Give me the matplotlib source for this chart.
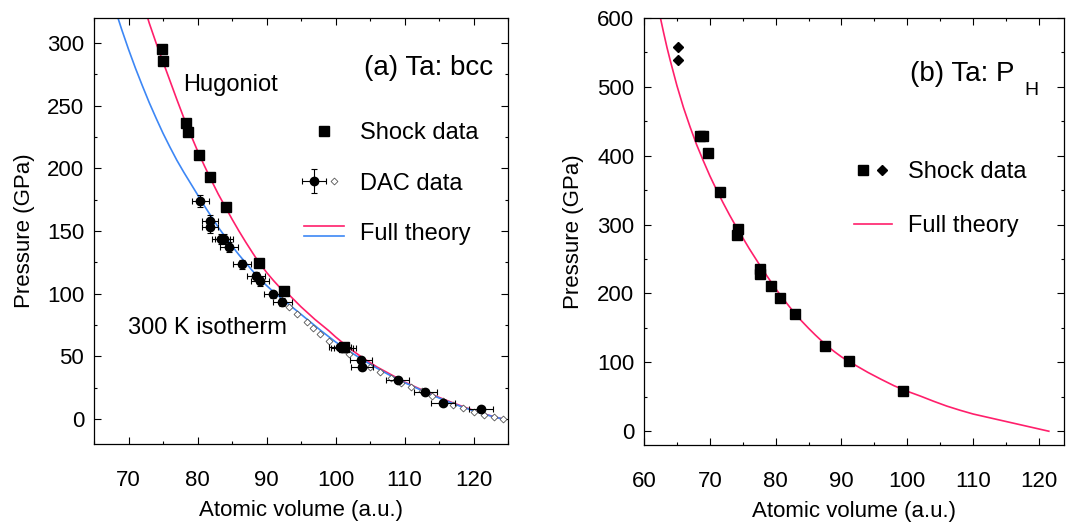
import matplotlib.pyplot as plt
from matplotlib.lines import Line2D
from matplotlib.legend_handler import HandlerBase, HandlerTuple
from matplotlib.ticker import MultipleLocator

plt.rcParams['font.family'] = ['Liberation Sans', 'DejaVu Sans']

RED = '#ff1f6b'
BLUE = '#3d87f5'

# %% data, panel (a)
hug_v = [72.5, 73, 74, 75, 76, 77, 78, 79, 80, 81, 82, 83, 84, 85, 86, 87, 88, 88.6, 90, 91, 92, 93, 94, 95, 96, 97, 98, 99, 100,
         102, 104, 106, 108, 110, 112, 114, 116, 118, 120, 122, 124.2]
hug_p = [325, 316, 300, 285, 270, 255, 240.5, 227, 214, 202, 190.5, 179.5, 169.5, 159.5, 150, 141, 132.4, 127.4, 117, 110.5, 104.5,
         100.5, 95, 89.5, 84.5, 79.5, 75, 70.5, 65.5, 56.5, 48.5, 41.5, 35.5, 29.5, 24.5, 19.5, 15, 10.8, 6.8, 3.3, 0]

iso_v = [68, 69, 70, 71, 72, 73, 74, 75, 76, 77, 78, 79, 80, 81, 82, 83, 84, 85, 86, 87, 88, 89, 90, 91, 92, 93, 94, 95, 96, 97, 98,
         100, 102, 104, 106, 108, 110, 112, 114, 116, 118, 120, 122, 124.2]
iso_p = [328, 311, 295, 280, 266, 252.5, 240, 228, 217, 206.5, 197, 188, 179, 170, 161.5, 153, 145.5, 138, 131, 124.5, 118, 112, 106.5,
         101.5, 97, 92.5, 88, 83.5, 79, 74.5, 70, 61.5, 54, 47, 40.5, 34.5, 29, 24, 19, 14.5, 10.3, 6.5, 3.1, 0]

shock_v_a = [74.9, 74.95, 78.4, 78.6, 80.2, 81.8, 84.1, 88.9, 92.5, 101.2]
shock_p_a = [295, 286, 236.5, 228.7, 211, 193, 169, 124.3, 102, 57.5]

dac_v = [80.4, 81.8, 81.8, 83.4, 83.8, 84.5, 86.5, 88.5, 89.1, 91.0, 92.3, 100.6, 100.9, 101.4, 103.7, 103.9, 109.0, 113.0, 115.6, 121.1]
dac_p = [174, 158, 153, 144, 144, 137, 123.5, 114, 110, 99.5, 93.5, 57.5, 56.3, 57, 47.3, 41.2, 31.3, 21.5, 12.5, 8]
dac_verr = [1.2, 1.2, 1.2, 1.3, 1.3, 1.3, 1.3, 1.3, 1.3, 1.3, 1.4, 1.6, 1.6, 1.6, 1.6, 1.6, 1.7, 1.7, 1.7, 1.7]
dac_perr = [5, 4.5, 4.5, 4, 4, 4, 3.5, 3.5, 3.5, 3, 3, 2, 2, 2, 2, 2, 2, 2, 1.5, 1.5]

dac2_v = [93.3, 94.4, 95.8, 96.8, 97.8, 99.0, 100.5, 102.0, 103.5, 105.0, 106.5, 108.0, 109.5, 111.0, 112.5, 114.0, 115.5,
          117.0, 118.5, 120.0, 121.5, 123.0, 124.2]
dac2_p = [89, 84, 77, 72.5, 68, 62.5, 57, 51.5, 46, 41.5, 37.5, 33, 29, 25.5, 22, 18.5, 14.5, 11.5, 8.5, 5.5, 3.3, 1.3, 0]

# %% data, panel (b)
hug_v_b = [62.2, 62.5, 63, 63.5, 64, 65, 66, 67, 68, 69, 70, 71, 72, 73, 74, 75, 76, 77, 78, 79, 80, 81, 82, 83, 84, 85, 86, 87,
           88, 89, 90, 91, 92, 94, 96, 98, 100, 102, 104, 106, 108, 110, 121.5]
hug_p_b = [615, 600, 578, 557, 538, 502, 470, 442, 416, 393, 371, 351, 332, 314, 297, 281, 265, 250, 235, 221, 207, 194, 182, 170,
           159.5, 149.5, 140, 131, 122.5, 115, 108, 102, 96.5, 85.5, 75.5, 66, 58, 51, 43.5, 36.5, 30.5, 25, 0]

shock_v_b = [68.5, 69.0, 69.7, 71.5, 74.3, 74.1, 77.6, 77.6, 79.25, 80.6, 82.9, 87.5, 91.1, 99.3]
shock_p_b = [429, 429, 404, 347, 294, 285.5, 236, 228.5, 210.6, 192.8, 169.6, 123.7, 101.9, 58]

shock2_v_b = [65.2, 65.1]
shock2_p_b = [558, 539]


class TwoLineHandler(HandlerBase):
    # two short lines stacked on top of each other
    def create_artists(self, legend, orig_handle, xdescent, ydescent, width, height, fontsize, trans):
        out = []
        for h, frac in zip(orig_handle, (0.85, 0.25)):
            y = frac * height - ydescent
            ln = Line2D([-xdescent, -xdescent + width], [y, y], color=h.get_color(), lw=h.get_linewidth())
            ln.set_transform(trans)
            out.append(ln)
        return out


def style_axes(ax, xmaj, xmin, ymaj, ymin):
    ax.xaxis.set_major_locator(MultipleLocator(xmaj))
    ax.xaxis.set_minor_locator(MultipleLocator(xmin))
    ax.yaxis.set_major_locator(MultipleLocator(ymaj))
    ax.yaxis.set_minor_locator(MultipleLocator(ymin))
    ax.tick_params(which='both', direction='in', top=True, right=True, width=0.8)
    ax.tick_params(which='major', length=5)
    ax.tick_params(which='minor', length=2.5)
    ax.tick_params(axis='x', labelsize=16, pad=19)
    ax.tick_params(axis='y', labelsize=16, pad=7)
    ax.set_xlabel('Atomic volume (a.u.)', fontsize=16, labelpad=6)
    ax.set_ylabel('Pressure (GPa)', fontsize=16, labelpad=9)
    for s in ax.spines.values():
        s.set_linewidth(0.9)


fig = plt.figure(figsize=(10.66, 5.22), dpi=100)
ax1 = fig.add_axes([0.0882, 0.1494, 0.3884, 0.8161])
ax2 = fig.add_axes([0.6041, 0.1475, 0.3940, 0.8180])

# %% panel (a)
red_a, = ax1.plot(hug_v, hug_p, color=RED, lw=1.2)
blue_a, = ax1.plot(iso_v, iso_p, color=BLUE, lw=1.2)
dm, = ax1.plot(dac2_v, dac2_p, 'D', ms=3.5, mfc='white', mec='#555555', mew=0.6, ls='none')
eb = ax1.errorbar(dac_v, dac_p, xerr=dac_verr, yerr=dac_perr, fmt='o', ms=6, color='black',
                  elinewidth=0.8, capsize=2, capthick=0.8)
sq, = ax1.plot(shock_v_a, shock_p_a, 's', ms=6.5, color='black', ls='none')

ax1.set_xlim(65, 125)
ax1.set_ylim(-20, 320)
style_axes(ax1, 10, 5, 50, 25)

ax1.text(0.807, 0.883, '(a) Ta: bcc', transform=ax1.transAxes, fontsize=20, ha='center', va='center')
ax1.text(0.329, 0.843, 'Hugoniot', transform=ax1.transAxes, fontsize=17, ha='center', va='center')
ax1.text(0.273, 0.272, '300 K isotherm', transform=ax1.transAxes, fontsize=17, ha='center', va='center')

ax1.legend([sq, (eb, dm), (red_a, blue_a)], ['Shock data', 'DAC data', 'Full theory'],
           handler_map={(eb, dm): HandlerTuple(ndivide=None, pad=0), (red_a, blue_a): TwoLineHandler()},
           loc='upper left', bbox_to_anchor=(0.507, 0.756), frameon=False, fontsize=17,
           borderpad=0, borderaxespad=0, handlelength=1.7, handletextpad=0.68, labelspacing=1.21, numpoints=1)

# %% panel (b)
red_b, = ax2.plot(hug_v_b, hug_p_b, color=RED, lw=1.2)
sq_b, = ax2.plot(shock_v_b, shock_p_b, 's', ms=6.5, color='black', ls='none')
dm_b, = ax2.plot(shock2_v_b, shock2_p_b, 'D', ms=5.5, color='black', ls='none')

ax2.set_xlim(60, 123.8)
ax2.set_ylim(-20, 600)
style_axes(ax2, 10, 5, 100, 50)

ax2.text(0.633, 0.868, '(b) Ta: P', transform=ax2.transAxes, fontsize=20, ha='left', va='center')
ax2.text(0.905, 0.830, 'H', transform=ax2.transAxes, fontsize=14, ha='left', va='center')

ax2.legend([(sq_b, dm_b), red_b], ['Shock data', 'Full theory'],
           handler_map={(sq_b, dm_b): HandlerTuple(ndivide=None, pad=0)},
           loc='upper left', bbox_to_anchor=(0.50, 0.665), frameon=False, fontsize=17,
           borderpad=0, borderaxespad=0, handlelength=1.6, handletextpad=0.7, labelspacing=1.37, numpoints=1)

fig.savefig('out.png', dpi=100)
